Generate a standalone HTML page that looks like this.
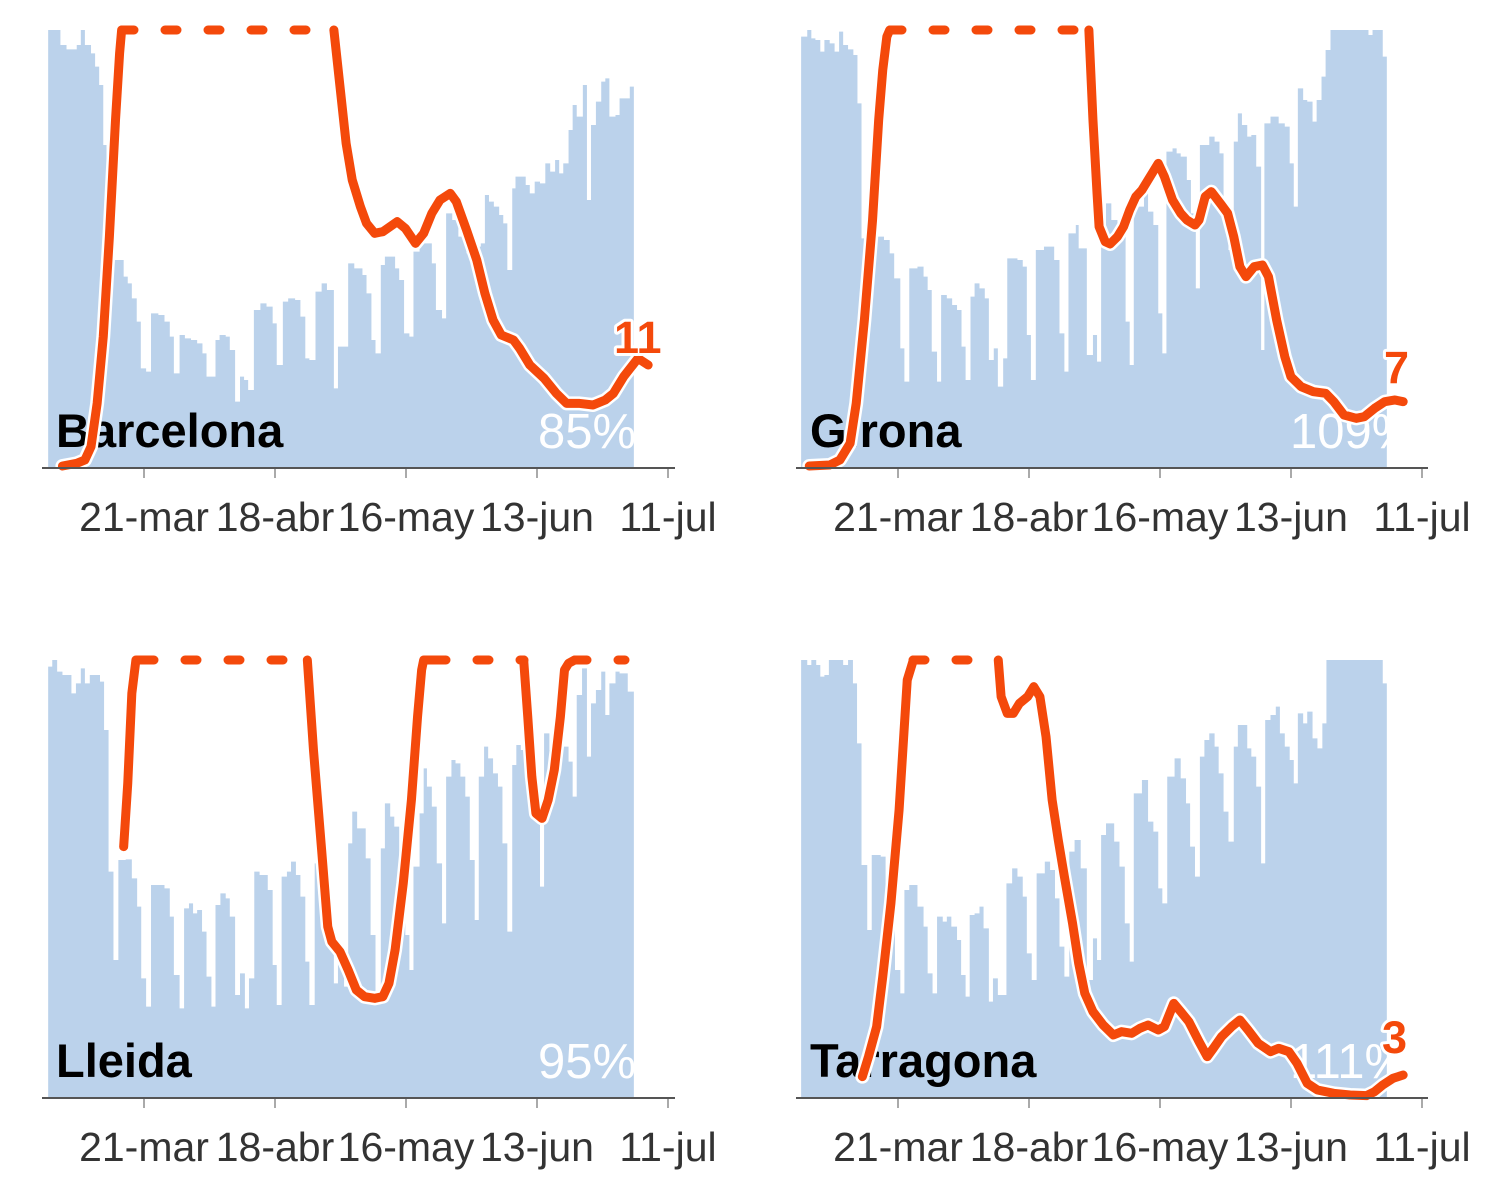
<!DOCTYPE html>
<html><head><meta charset="utf-8"><style>
html,body{margin:0;padding:0;background:#fff;}
svg{display:block;}
text{font-family:"Liberation Sans",sans-serif;}
.bar{fill:#bbd2eb;stroke:none;}
.halo{fill:none;stroke:#fff;stroke-width:14;stroke-linejoin:round;stroke-linecap:round;}
.ln{fill:none;stroke:#f4490b;stroke-width:9;stroke-linejoin:round;stroke-linecap:round;}
.dash{fill:none;stroke:#f4490b;stroke-width:9;stroke-linecap:round;stroke-dasharray:12 31;}
.name{font-weight:bold;font-size:47px;fill:#000;}
.pct{font-size:49px;fill:#fff;}
.num{font-weight:bold;font-size:45px;fill:#f4490b;stroke:#fff;stroke-width:6;paint-order:stroke;stroke-linejoin:round;}
.tick{font-size:41px;fill:#333;text-anchor:middle;}
.ax{stroke:#555;stroke-width:2;}
.tk{stroke:#aaa;stroke-width:2;}
</style></head><body>
<svg width="1500" height="1200" viewBox="0 0 1500 1200" xmlns="http://www.w3.org/2000/svg">
<defs>
<clipPath id="c1"><rect x="0" y="0" width="634" height="600"/></clipPath>
<clipPath id="c2"><rect x="760" y="0" width="627" height="600"/></clipPath>
<clipPath id="c3"><rect x="0" y="600" width="634" height="600"/></clipPath>
<clipPath id="c4"><rect x="760" y="600" width="627" height="600"/></clipPath>
</defs>

<!-- Panel 1 -->
<g transform="translate(40,20) scale(0.40816,0.33333)">
<path class="bar" d="M20 1342 V30 H50 V75 H65 V88 H90 V75 H100 V30 H110 V75 H125 V100 H135 V140 H145 V195 H155 V375 H163 V600 H180 V720 H195 V720 H205 V770 H215 V790 H225 V835 H237 V905 H247 V1045 H260 V1055 H272 V880 H290 V885 H305 V905 H318 V950 H328 V1060 H342 V945 H355 V955 H370 V960 H385 V970 H398 V1000 H408 V1070 H430 V960 H440 V945 H455 V950 H465 V990 H478 V1145 H490 V1070 H500 V1080 H510 V1110 H524 V870 H540 V850 H555 V860 H570 V910 H580 V1035 H595 V845 H608 V835 H625 V840 H638 V890 H650 V1015 H660 V1020 H675 V815 H690 V790 H703 V810 H720 V1105 H730 V980 H755 V730 H770 V745 H790 V765 H800 V820 H812 V960 H822 V1000 H835 V735 H845 V710 H870 V745 H880 V780 H892 V940 H905 V950 H915 V695 H930 V670 H960 V730 H970 V870 H985 V895 H995 V580 H1010 V600 H1025 V650 H1045 V700 H1065 V680 H1080 V670 H1090 V525 H1100 V545 H1112 V560 H1125 V585 H1135 V610 H1145 V750 H1157 V505 H1165 V470 H1190 V495 H1200 V520 H1212 V485 H1225 V490 H1238 V430 H1250 V455 H1262 V420 H1272 V460 H1282 V430 H1295 V330 H1305 V255 H1315 V290 H1330 V195 H1340 V540 H1350 V315 H1362 V245 H1375 V185 H1385 V175 H1395 V290 H1410 V285 H1420 V235 H1445 V200 H1455 V1342 Z"/>
</g>
<text class="pct" x="538" y="448" clip-path="url(#c1)">85%</text>
<text class="name" x="56" y="447">Barcelona</text>
<g transform="translate(40,20) scale(0.40816,0.33333)">
<polyline class="halo" vector-effect="non-scaling-stroke" points="55,1338 90,1330 110,1320 125,1280 140,1150 155,950 170,650 185,300 195,100 200,30"/>
<polyline class="ln" vector-effect="non-scaling-stroke" points="55,1338 90,1330 110,1320 125,1280 140,1150 155,950 170,650 185,300 195,100 200,30"/>
<polyline class="halo" vector-effect="non-scaling-stroke" points="720,30 735,200 750,370 765,480 785,560 800,610 820,640 840,635 875,605 895,625 920,670 940,640 960,580 980,540 1005,520 1020,545 1045,630 1070,720 1090,820 1110,900 1130,945 1160,960 1175,985 1200,1035 1235,1075 1265,1120 1290,1150 1320,1150 1355,1155 1385,1140 1405,1120 1430,1070 1465,1015 1490,1035"/>
<polyline class="ln" vector-effect="non-scaling-stroke" points="720,30 735,200 750,370 765,480 785,560 800,610 820,640 840,635 875,605 895,625 920,670 940,640 960,580 980,540 1005,520 1020,545 1045,630 1070,720 1090,820 1110,900 1130,945 1160,960 1175,985 1200,1035 1235,1075 1265,1120 1290,1150 1320,1150 1355,1155 1385,1140 1405,1120 1430,1070 1465,1015 1490,1035"/>
</g>
<line class="dash" x1="122" y1="30" x2="334" y2="30"/>
<text class="num" x="614" y="353">11</text>
<line class="ax" x1="42" y1="468" x2="675" y2="468"/>
<g class="tk"><line x1="144" y1="469" x2="144" y2="478"/><line x1="275" y1="469" x2="275" y2="478"/><line x1="406" y1="469" x2="406" y2="478"/><line x1="537" y1="469" x2="537" y2="478"/><line x1="668" y1="469" x2="668" y2="478"/></g>
<g class="tick"><text x="144" y="531">21-mar</text><text x="275" y="531">18-abr</text><text x="406" y="531">16-may</text><text x="537" y="531">13-jun</text><text x="668" y="531">11-jul</text></g>

<!-- Panel 2 -->
<g transform="translate(795,20) scale(0.40816,0.33333)">
<path class="bar" d="M15 1342 V50 H30 V30 H40 V55 H50 V60 H62 V95 H72 V60 H85 V70 H97 V95 H108 V35 H118 V75 H130 V88 H143 V105 H153 V250 H163 V655 H175 V650 H218 V660 H232 V700 H243 V775 H258 V985 H268 V1085 H280 V745 H300 V740 H315 V770 H325 V810 H335 V995 H348 V1085 H358 V825 H372 V835 H385 V855 H397 V870 H408 V980 H418 V1080 H430 V830 H440 V790 H452 V805 H465 V835 H475 V1020 H487 V985 H497 V1100 H510 V1015 H520 V715 H545 V720 H558 V740 H568 V945 H578 V1080 H590 V690 H610 V680 H635 V720 H648 V940 H660 V1055 H670 V640 H688 V615 H695 V685 H715 V1005 H730 V945 H740 V1025 H750 V670 H762 V550 H775 V600 H790 V625 H810 V905 H820 V1035 H830 V560 H855 V520 H865 V575 H878 V615 H890 V880 H900 V1000 H910 V395 H925 V385 H935 V400 H945 V410 H960 V480 H970 V580 H982 V805 H992 V375 H1015 V350 H1028 V365 H1040 V400 H1050 V565 H1062 V690 H1075 V365 H1085 V280 H1095 V315 H1108 V350 H1118 V345 H1130 V440 H1142 V990 H1150 V310 H1165 V290 H1185 V310 H1200 V320 H1212 V430 H1222 V560 H1232 V205 H1245 V240 H1255 V245 H1268 V305 H1278 V240 H1290 V170 H1300 V90 H1312 V30 H1405 V45 H1415 V30 H1440 V110 H1450 V1342 Z"/>
</g>
<text class="pct" x="1290" y="448" clip-path="url(#c2)">109%</text>
<text class="name" x="810" y="447">Girona</text>
<g transform="translate(795,20) scale(0.40816,0.33333)">
<polyline class="halo" vector-effect="non-scaling-stroke" points="35,1338 85,1335 110,1320 135,1270 150,1150 170,900 190,600 205,300 215,150 225,50 232,30"/>
<polyline class="ln" vector-effect="non-scaling-stroke" points="35,1338 85,1335 110,1320 135,1270 150,1150 170,900 190,600 205,300 215,150 225,50 232,30"/>
<polyline class="halo" vector-effect="non-scaling-stroke" points="720,30 730,300 740,520 745,620 760,665 772,672 790,650 805,620 820,570 835,530 850,510 875,460 890,430 905,470 925,540 945,580 960,600 980,615 990,600 1005,530 1020,515 1045,555 1060,580 1075,650 1090,740 1105,770 1125,740 1145,735 1160,770 1180,900 1200,1010 1215,1070 1240,1100 1270,1115 1300,1120 1320,1145 1345,1185 1375,1195 1395,1190 1420,1165 1445,1145 1470,1140 1490,1145"/>
<polyline class="ln" vector-effect="non-scaling-stroke" points="720,30 730,300 740,520 745,620 760,665 772,672 790,650 805,620 820,570 835,530 850,510 875,460 890,430 905,470 925,540 945,580 960,600 980,615 990,600 1005,530 1020,515 1045,555 1060,580 1075,650 1090,740 1105,770 1125,740 1145,735 1160,770 1180,900 1200,1010 1215,1070 1240,1100 1270,1115 1300,1120 1320,1145 1345,1185 1375,1195 1395,1190 1420,1165 1445,1145 1470,1140 1490,1145"/>
</g>
<line class="dash" x1="890" y1="30" x2="1089" y2="30"/>
<text class="num" x="1384" y="383">7</text>
<line class="ax" x1="796" y1="468" x2="1428" y2="468"/>
<g class="tk"><line x1="898" y1="469" x2="898" y2="478"/><line x1="1029" y1="469" x2="1029" y2="478"/><line x1="1160" y1="469" x2="1160" y2="478"/><line x1="1291" y1="469" x2="1291" y2="478"/><line x1="1422" y1="469" x2="1422" y2="478"/></g>
<g class="tick"><text x="898" y="531">21-mar</text><text x="1029" y="531">18-abr</text><text x="1160" y="531">16-may</text><text x="1291" y="531">13-jun</text><text x="1422" y="531">11-jul</text></g>

<!-- Panel 3 -->
<g transform="translate(40,650) scale(0.40816,0.33333)">
<path class="bar" d="M20 1342 V50 H30 V30 H42 V65 H55 V75 H65 V75 H77 V130 H88 V100 H100 V55 H110 V100 H122 V75 H135 V75 H147 V95 H157 V240 H168 V665 H180 V930 H192 V630 H210 V628 H225 V685 H238 V770 H248 V985 H260 V1070 H272 V705 H290 V705 H305 V715 H318 V800 H328 V975 H342 V1075 H353 V775 H365 V760 H375 V790 H385 V780 H397 V845 H408 V980 H420 V1070 H430 V765 H442 V730 H455 V745 H465 V800 H478 V1035 H490 V970 H502 V1075 H512 V985 H525 V665 H538 V675 H558 V720 H570 V945 H580 V1065 H592 V680 H605 V665 H615 V635 H627 V675 H638 V740 H650 V935 H660 V1065 H673 V640 H690 V830 H720 V1000 H730 V900 H745 V1010 H755 V580 H765 V485 H777 V535 H798 V625 H810 V855 H822 V1025 H835 V595 H845 V460 H858 V500 H868 V530 H880 V700 H895 V855 H905 V960 H915 V650 H930 V490 H940 V355 H948 V410 H960 V470 H972 V640 H985 V820 H995 V380 H1008 V330 H1018 V340 H1030 V380 H1042 V440 H1053 V630 H1065 V810 H1075 V380 H1088 V290 H1098 V325 H1110 V370 H1122 V410 H1133 V580 H1145 V845 H1157 V345 H1167 V285 H1178 V300 H1190 V380 H1200 V490 H1225 V710 H1235 V250 H1248 V300 H1275 V290 H1295 V335 H1305 V440 H1315 V135 H1328 V55 H1340 V320 H1350 V160 H1362 V120 H1375 V65 H1385 V195 H1395 V100 H1410 V65 H1420 V70 H1440 V125 H1455 V1342 Z"/>
</g>
<text class="pct" x="538" y="1078" clip-path="url(#c3)">95%</text>
<text class="name" x="56" y="1077">Lleida</text>
<g transform="translate(40,650) scale(0.40816,0.33333)">
<polyline class="halo" vector-effect="non-scaling-stroke" points="205,590 215,400 225,130 235,30 250,30"/>
<polyline class="ln" vector-effect="non-scaling-stroke" points="205,590 215,400 225,130 235,30 250,30"/>
<polyline class="halo" vector-effect="non-scaling-stroke" points="655,30 670,300 690,600 705,830 715,875 735,905 755,960 775,1020 795,1040 820,1045 840,1040 855,1000 870,900 890,700 910,450 925,200 935,60 940,30 965,30"/>
<polyline class="ln" vector-effect="non-scaling-stroke" points="655,30 670,300 690,600 705,830 715,875 735,905 755,960 775,1020 795,1040 820,1045 840,1040 855,1000 870,900 890,700 910,450 925,200 935,60 940,30 965,30"/>
<polyline class="halo" vector-effect="non-scaling-stroke" points="1185,30 1195,200 1205,380 1215,490 1230,505 1245,450 1260,360 1275,200 1285,60 1295,40 1310,30"/>
<polyline class="ln" vector-effect="non-scaling-stroke" points="1185,30 1195,200 1205,380 1215,490 1230,505 1245,450 1260,360 1275,200 1285,60 1295,40 1310,30"/>
</g>
<line class="dash" x1="142" y1="660" x2="307" y2="660"/>
<line class="dash" x1="434" y1="660" x2="524" y2="660"/>
<line class="dash" x1="575" y1="660" x2="625" y2="660"/>
<line class="ax" x1="42" y1="1098" x2="675" y2="1098"/>
<g class="tk"><line x1="144" y1="1099" x2="144" y2="1108"/><line x1="275" y1="1099" x2="275" y2="1108"/><line x1="406" y1="1099" x2="406" y2="1108"/><line x1="537" y1="1099" x2="537" y2="1108"/><line x1="668" y1="1099" x2="668" y2="1108"/></g>
<g class="tick"><text x="144" y="1161">21-mar</text><text x="275" y="1161">18-abr</text><text x="406" y="1161">16-may</text><text x="537" y="1161">13-jun</text><text x="668" y="1161">11-jul</text></g>

<!-- Panel 4 -->
<g transform="translate(795,650) scale(0.40816,0.33333)">
<path class="bar" d="M15 1342 V30 H30 V45 H40 V30 H52 V45 H62 V80 H72 V75 H83 V30 H118 V45 H130 V30 H142 V100 H152 V280 H163 V645 H177 V840 H188 V615 H210 V620 H222 V700 H245 V960 H258 V1030 H268 V720 H280 V705 H300 V770 H315 V830 H325 V970 H337 V1030 H348 V800 H362 V815 H372 V800 H383 V830 H397 V870 H407 V975 H418 V1040 H428 V795 H440 V790 H452 V770 H462 V835 H475 V1055 H485 V985 H497 V1035 H518 V700 H532 V655 H545 V680 H558 V740 H568 V910 H580 V990 H592 V670 H612 V635 H625 V660 H637 V745 H648 V890 H660 V980 H672 V605 H685 V570 H700 V655 H715 V990 H730 V865 H740 V930 H750 V555 H762 V520 H782 V575 H795 V650 H808 V820 H820 V935 H830 V430 H850 V390 H865 V515 H878 V545 H890 V715 H900 V760 H912 V380 H930 V325 H945 V385 H958 V460 H968 V590 H980 V680 H992 V320 H1003 V270 H1015 V250 H1028 V290 H1038 V370 H1050 V485 H1062 V575 H1075 V290 H1085 V225 H1108 V295 H1118 V320 H1130 V410 H1142 V640 H1152 V210 H1165 V195 H1178 V170 H1188 V250 H1200 V290 H1212 V330 H1222 V400 H1232 V190 H1245 V220 H1255 V185 H1268 V265 H1280 V295 H1292 V220 H1302 V30 H1440 V100 H1450 V1342 Z"/>
</g>
<text class="pct" x="1290" y="1078" clip-path="url(#c4)">111%</text>
<text class="name" x="810" y="1077">Tarragona</text>
<g transform="translate(795,650) scale(0.40816,0.33333)">
<polyline class="halo" vector-effect="non-scaling-stroke" points="165,1280 180,1220 200,1130 215,980 235,760 255,480 275,90 290,30"/>
<polyline class="ln" vector-effect="non-scaling-stroke" points="165,1280 180,1220 200,1130 215,980 235,760 255,480 275,90 290,30"/>
<polyline class="halo" vector-effect="non-scaling-stroke" points="498,30 505,140 520,190 535,190 550,160 570,140 585,110 600,140 615,260 630,450 645,570 660,680 680,820 695,940 710,1030 730,1085 755,1125 780,1155 800,1145 825,1150 845,1135 865,1125 890,1140 905,1130 928,1060 945,1085 965,1115 990,1175 1010,1220 1025,1195 1045,1160 1070,1130 1090,1110 1110,1140 1135,1180 1165,1205 1185,1195 1210,1205 1230,1240 1255,1300 1280,1320 1320,1330 1360,1335 1400,1337 1420,1325 1440,1305 1465,1285 1490,1275"/>
<polyline class="ln" vector-effect="non-scaling-stroke" points="498,30 505,140 520,190 535,190 550,160 570,140 585,110 600,140 615,260 630,450 645,570 660,680 680,820 695,940 710,1030 730,1085 755,1125 780,1155 800,1145 825,1150 845,1135 865,1125 890,1140 905,1130 928,1060 945,1085 965,1115 990,1175 1010,1220 1025,1195 1045,1160 1070,1130 1090,1110 1110,1140 1135,1180 1165,1205 1185,1195 1210,1205 1230,1240 1255,1300 1280,1320 1320,1330 1360,1335 1400,1337 1420,1325 1440,1305 1465,1285 1490,1275"/>
</g>
<line class="dash" x1="913" y1="660" x2="998" y2="660"/>
<text class="num" x="1382" y="1053">3</text>
<line class="ax" x1="796" y1="1098" x2="1428" y2="1098"/>
<g class="tk"><line x1="898" y1="1099" x2="898" y2="1108"/><line x1="1029" y1="1099" x2="1029" y2="1108"/><line x1="1160" y1="1099" x2="1160" y2="1108"/><line x1="1291" y1="1099" x2="1291" y2="1108"/><line x1="1422" y1="1099" x2="1422" y2="1108"/></g>
<g class="tick"><text x="898" y="1161">21-mar</text><text x="1029" y="1161">18-abr</text><text x="1160" y="1161">16-may</text><text x="1291" y="1161">13-jun</text><text x="1422" y="1161">11-jul</text></g>
</svg>
</body></html>
